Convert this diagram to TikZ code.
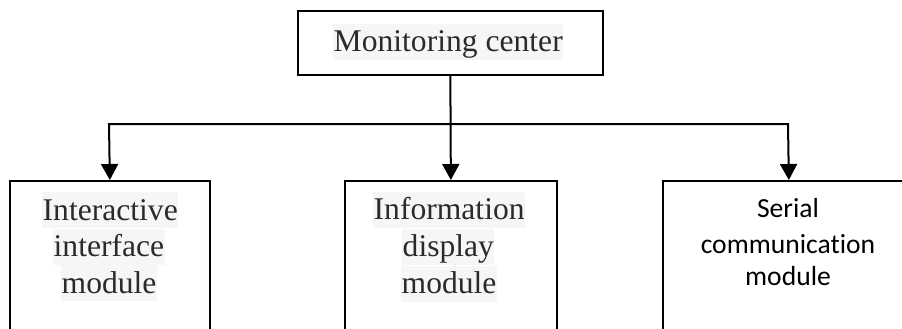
\documentclass[tikz,border=0pt]{standalone}
\usepackage{fontspec}
\setmainfont{Liberation Serif}
\newfontfamily\calibfont[Ligatures={NoCommon}]{Carlito}
\usetikzlibrary{arrows.meta}
\definecolor{hl}{HTML}{F6F6F6}
\definecolor{ink}{HTML}{2B2B2B}
\begin{document}
\begin{tikzpicture}[x=1pt,y=-1pt,
  box/.style={draw=black,line width=1.7pt,anchor=north west,inner sep=0pt},
  conn/.style={draw=black,line width=2pt},
  tip/.style={-{Triangle[length=16pt,width=17pt]}},
  serif/.style={font=\fontsize{31.6}{36}\selectfont,text=ink,fill=hl,inner xsep=0.5pt,inner ysep=0pt,text height=28pt,text depth=8pt,anchor=base west},
  sans/.style={font=\calibfont\fontsize{27.6}{33}\selectfont,text=black,inner sep=0pt,anchor=base}]
\useasboundingbox (0,0) rectangle (902,329);
\clip (0,0) rectangle (902,329);
% boxes
\node[box,minimum width=305pt,minimum height=64pt] (top) at (297,10) {};
\node[box,minimum width=200pt,minimum height=200pt] (left) at (9,180) {};
\node[box,minimum width=212pt,minimum height=200pt] (mid) at (344,180) {};
\node[box,minimum width=252pt,minimum height=200pt] (right) at (662,180) {};
% texts
\node[serif] (t0) at (333,52) {Monitoring center};
\node[serif] (l1) at (42,220) {Interactive\ };
\node[serif] (l2) at (53,256.5) {interface\ };
\node[serif] (l3) at (61,293) {module};
\node[serif] (m1) at (373,219.5) {Information\ };
\node[serif] (m2) at (402,256.5) {display\ };
\node[serif] (m3) at (401,293.5) {module};
\node[sans] (r1) at (788,217.5) {Serial};
\node[sans] (r2) at (788,253.5) {communication};
\node[sans] (r3) at (788,285.5) {module};
% connectors
\coordinate (j) at (450,124);
\coordinate (jl) at (109,124);
\coordinate (jr) at (788,124);
\draw[conn,tip] (top.south) -- (mid.north);
\draw[conn,tip] (j) -- (jl) -- (left.north);
\draw[conn,tip] (j) -- (jr) -- (right.north);
\end{tikzpicture}
\end{document}
